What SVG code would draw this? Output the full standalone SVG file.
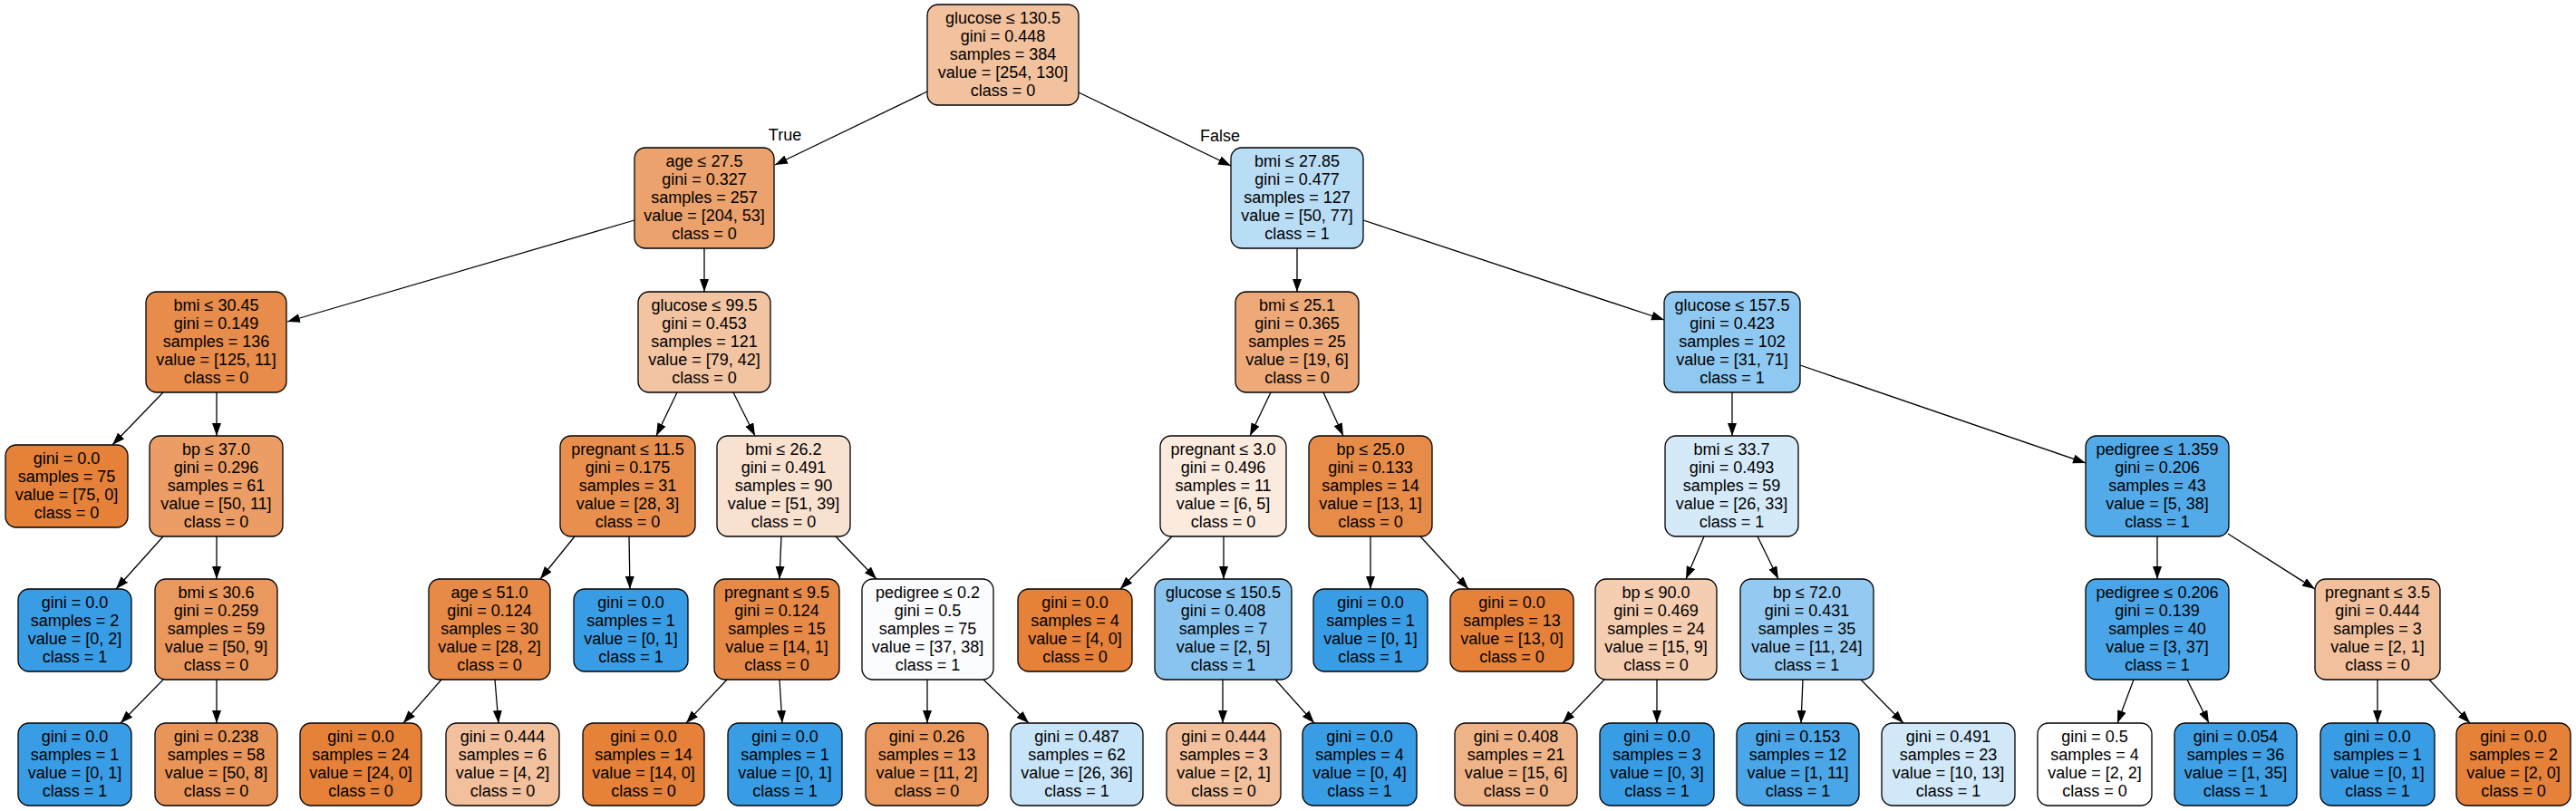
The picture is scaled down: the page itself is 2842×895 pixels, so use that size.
<svg xmlns="http://www.w3.org/2000/svg" width="2842" height="895" viewBox="0 0 2842 895">
<style>
.node rect{stroke:#000;stroke-width:1.3}
text{font-family:"Liberation Sans",Arial,Helvetica,sans-serif;font-size:18px;fill:#000;text-anchor:middle}
#edges line{stroke:#000;stroke-width:1.3;marker-end:url(#arr)}
.o{fill:#e58139}.b{fill:#399de5}
</style>
<defs>
<marker id="arr" markerWidth="15" markerHeight="11" refX="14" refY="5" orient="auto" markerUnits="userSpaceOnUse"><path d="M0,0 L14,5 L0,10 z" fill="#000"/></marker>
</defs>
<rect width="2842" height="895" fill="#fff"/>
<g id="edges">
<line x1="1023" y1="101" x2="855" y2="182"/>
<line x1="1190" y1="102" x2="1358" y2="183"/>
<line x1="700" y1="243" x2="317" y2="355"/>
<line x1="777" y1="274" x2="777" y2="322"/>
<line x1="1431" y1="274" x2="1431" y2="322"/>
<line x1="1504" y1="243" x2="1836" y2="353"/>
<line x1="180" y1="433" x2="124" y2="491"/>
<line x1="239" y1="433" x2="239" y2="481"/>
<line x1="747" y1="433" x2="724" y2="481"/>
<line x1="809" y1="433" x2="833" y2="481"/>
<line x1="1402" y1="433" x2="1379" y2="481"/>
<line x1="1460" y1="433" x2="1482" y2="481"/>
<line x1="1911" y1="433" x2="1911" y2="481"/>
<line x1="1986" y1="403" x2="2301" y2="511"/>
<line x1="180" y1="592" x2="128" y2="650"/>
<line x1="239" y1="592" x2="239" y2="639"/>
<line x1="634" y1="592" x2="596" y2="639"/>
<line x1="694" y1="592" x2="695" y2="650"/>
<line x1="862" y1="592" x2="860" y2="639"/>
<line x1="922" y1="592" x2="967" y2="639"/>
<line x1="1293" y1="592" x2="1236" y2="650"/>
<line x1="1350" y1="592" x2="1350" y2="639"/>
<line x1="1512" y1="592" x2="1512" y2="650"/>
<line x1="1567" y1="592" x2="1620" y2="650"/>
<line x1="1880" y1="592" x2="1860" y2="639"/>
<line x1="1939" y1="592" x2="1962" y2="639"/>
<line x1="2380" y1="592" x2="2380" y2="639"/>
<line x1="2458" y1="589" x2="2554" y2="650"/>
<line x1="180" y1="750" x2="133" y2="798"/>
<line x1="239" y1="750" x2="239" y2="798"/>
<line x1="487" y1="750" x2="445" y2="798"/>
<line x1="546" y1="750" x2="550" y2="798"/>
<line x1="802" y1="750" x2="757" y2="798"/>
<line x1="860" y1="750" x2="863" y2="798"/>
<line x1="1023" y1="750" x2="1023" y2="798"/>
<line x1="1085" y1="750" x2="1135" y2="798"/>
<line x1="1349" y1="750" x2="1349" y2="798"/>
<line x1="1407" y1="750" x2="1450" y2="798"/>
<line x1="1770" y1="750" x2="1724" y2="798"/>
<line x1="1828" y1="750" x2="1828" y2="798"/>
<line x1="1989" y1="750" x2="1987" y2="798"/>
<line x1="2053" y1="750" x2="2100" y2="798"/>
<line x1="2354" y1="750" x2="2336" y2="798"/>
<line x1="2413" y1="750" x2="2437" y2="798"/>
<line x1="2623" y1="750" x2="2623" y2="798"/>
<line x1="2680" y1="750" x2="2725" y2="798"/>
</g>
<g id="edge-labels">
<text x="866" y="155">True</text>
<text x="1346" y="156">False</text>
</g>
<g id="n0" class="node"><rect x="1023" y="5" width="167" height="111" rx="12" fill="#f2c19e"/><text x="1106.5" y="26">glucose ≤ 130.5</text><text x="1106.5" y="46">gini = 0.448</text><text x="1106.5" y="66">samples = 384</text><text x="1106.5" y="86">value = [254, 130]</text><text x="1106.5" y="106">class = 0</text></g>
<g id="n1" class="node"><rect x="700" y="163" width="154" height="111" rx="12" fill="#eca26c"/><text x="777" y="184">age ≤ 27.5</text><text x="777" y="204">gini = 0.327</text><text x="777" y="224">samples = 257</text><text x="777" y="244">value = [204, 53]</text><text x="777" y="264">class = 0</text></g>
<g id="n2" class="node"><rect x="1358" y="163" width="146" height="111" rx="12" fill="#baddf6"/><text x="1431" y="184">bmi ≤ 27.85</text><text x="1431" y="204">gini = 0.477</text><text x="1431" y="224">samples = 127</text><text x="1431" y="244">value = [50, 77]</text><text x="1431" y="264">class = 1</text></g>
<g id="n3" class="node"><rect x="161" y="322" width="155" height="111" rx="12" fill="#e78c4a"/><text x="238.5" y="343">bmi ≤ 30.45</text><text x="238.5" y="363">gini = 0.149</text><text x="238.5" y="383">samples = 136</text><text x="238.5" y="403">value = [125, 11]</text><text x="238.5" y="423">class = 0</text></g>
<g id="n4" class="node"><rect x="704" y="322" width="146" height="111" rx="12" fill="#f3c4a2"/><text x="777" y="343">glucose ≤ 99.5</text><text x="777" y="363">gini = 0.453</text><text x="777" y="383">samples = 121</text><text x="777" y="403">value = [79, 42]</text><text x="777" y="423">class = 0</text></g>
<g id="n5" class="node"><rect x="1363" y="322" width="136" height="111" rx="12" fill="#eda978"/><text x="1431" y="343">bmi ≤ 25.1</text><text x="1431" y="363">gini = 0.365</text><text x="1431" y="383">samples = 25</text><text x="1431" y="403">value = [19, 6]</text><text x="1431" y="423">class = 0</text></g>
<g id="n6" class="node"><rect x="1836" y="322" width="150" height="111" rx="12" fill="#8fc8f0"/><text x="1911" y="343">glucose ≤ 157.5</text><text x="1911" y="363">gini = 0.423</text><text x="1911" y="383">samples = 102</text><text x="1911" y="403">value = [31, 71]</text><text x="1911" y="423">class = 1</text></g>
<g id="n7" class="node"><rect x="6" y="491" width="135" height="91" rx="12" class="o"/><text x="73.5" y="512">gini = 0.0</text><text x="73.5" y="532">samples = 75</text><text x="73.5" y="552">value = [75, 0]</text><text x="73.5" y="572">class = 0</text></g>
<g id="n8" class="node"><rect x="165" y="481" width="147" height="111" rx="12" fill="#eb9d65"/><text x="238.5" y="502">bp ≤ 37.0</text><text x="238.5" y="522">gini = 0.296</text><text x="238.5" y="542">samples = 61</text><text x="238.5" y="562">value = [50, 11]</text><text x="238.5" y="582">class = 0</text></g>
<g id="n9" class="node"><rect x="618" y="481" width="149" height="111" rx="12" fill="#e88f4e"/><text x="692.5" y="502">pregnant ≤ 11.5</text><text x="692.5" y="522">gini = 0.175</text><text x="692.5" y="542">samples = 31</text><text x="692.5" y="562">value = [28, 3]</text><text x="692.5" y="582">class = 0</text></g>
<g id="n10" class="node"><rect x="791" y="481" width="147" height="111" rx="12" fill="#f9e1d0"/><text x="864.5" y="502">bmi ≤ 26.2</text><text x="864.5" y="522">gini = 0.491</text><text x="864.5" y="542">samples = 90</text><text x="864.5" y="562">value = [51, 39]</text><text x="864.5" y="582">class = 0</text></g>
<g id="n11" class="node"><rect x="1280" y="481" width="139" height="111" rx="12" fill="#fbeade"/><text x="1349.5" y="502">pregnant ≤ 3.0</text><text x="1349.5" y="522">gini = 0.496</text><text x="1349.5" y="542">samples = 11</text><text x="1349.5" y="562">value = [6, 5]</text><text x="1349.5" y="582">class = 0</text></g>
<g id="n12" class="node"><rect x="1444" y="481" width="136" height="111" rx="12" fill="#e78b48"/><text x="1512" y="502">bp ≤ 25.0</text><text x="1512" y="522">gini = 0.133</text><text x="1512" y="542">samples = 14</text><text x="1512" y="562">value = [13, 1]</text><text x="1512" y="582">class = 0</text></g>
<g id="n13" class="node"><rect x="1837" y="481" width="147" height="111" rx="12" fill="#d5eaf9"/><text x="1910.5" y="502">bmi ≤ 33.7</text><text x="1910.5" y="522">gini = 0.493</text><text x="1910.5" y="542">samples = 59</text><text x="1910.5" y="562">value = [26, 33]</text><text x="1910.5" y="582">class = 1</text></g>
<g id="n14" class="node"><rect x="2301" y="481" width="158" height="111" rx="12" fill="#53aae8"/><text x="2380" y="502">pedigree ≤ 1.359</text><text x="2380" y="522">gini = 0.206</text><text x="2380" y="542">samples = 43</text><text x="2380" y="562">value = [5, 38]</text><text x="2380" y="582">class = 1</text></g>
<g id="n15" class="node"><rect x="20" y="650" width="125" height="91" rx="12" class="b"/><text x="82.5" y="671">gini = 0.0</text><text x="82.5" y="691">samples = 2</text><text x="82.5" y="711">value = [0, 2]</text><text x="82.5" y="731">class = 1</text></g>
<g id="n16" class="node"><rect x="171" y="639" width="135" height="111" rx="12" fill="#ea985d"/><text x="238.5" y="660">bmi ≤ 30.6</text><text x="238.5" y="680">gini = 0.259</text><text x="238.5" y="700">samples = 59</text><text x="238.5" y="720">value = [50, 9]</text><text x="238.5" y="740">class = 0</text></g>
<g id="n17" class="node"><rect x="473" y="639" width="134" height="111" rx="12" fill="#e78a47"/><text x="540" y="660">age ≤ 51.0</text><text x="540" y="680">gini = 0.124</text><text x="540" y="700">samples = 30</text><text x="540" y="720">value = [28, 2]</text><text x="540" y="740">class = 0</text></g>
<g id="n18" class="node"><rect x="633" y="650" width="126" height="91" rx="12" class="b"/><text x="696" y="671">gini = 0.0</text><text x="696" y="691">samples = 1</text><text x="696" y="711">value = [0, 1]</text><text x="696" y="731">class = 1</text></g>
<g id="n19" class="node"><rect x="788" y="639" width="138" height="111" rx="12" fill="#e78a47"/><text x="857" y="660">pregnant ≤ 9.5</text><text x="857" y="680">gini = 0.124</text><text x="857" y="700">samples = 15</text><text x="857" y="720">value = [14, 1]</text><text x="857" y="740">class = 0</text></g>
<g id="n20" class="node"><rect x="951" y="639" width="145" height="111" rx="12" fill="#fafcfe"/><text x="1023.5" y="660">pedigree ≤ 0.2</text><text x="1023.5" y="680">gini = 0.5</text><text x="1023.5" y="700">samples = 75</text><text x="1023.5" y="720">value = [37, 38]</text><text x="1023.5" y="740">class = 1</text></g>
<g id="n21" class="node"><rect x="1123" y="650" width="126" height="91" rx="12" class="o"/><text x="1186" y="671">gini = 0.0</text><text x="1186" y="691">samples = 4</text><text x="1186" y="711">value = [4, 0]</text><text x="1186" y="731">class = 0</text></g>
<g id="n22" class="node"><rect x="1274" y="639" width="151" height="111" rx="12" fill="#88c4ef"/><text x="1349.5" y="660">glucose ≤ 150.5</text><text x="1349.5" y="680">gini = 0.408</text><text x="1349.5" y="700">samples = 7</text><text x="1349.5" y="720">value = [2, 5]</text><text x="1349.5" y="740">class = 1</text></g>
<g id="n23" class="node"><rect x="1449" y="650" width="126" height="91" rx="12" class="b"/><text x="1512" y="671">gini = 0.0</text><text x="1512" y="691">samples = 1</text><text x="1512" y="711">value = [0, 1]</text><text x="1512" y="731">class = 1</text></g>
<g id="n24" class="node"><rect x="1600" y="650" width="136" height="91" rx="12" class="o"/><text x="1668" y="671">gini = 0.0</text><text x="1668" y="691">samples = 13</text><text x="1668" y="711">value = [13, 0]</text><text x="1668" y="731">class = 0</text></g>
<g id="n25" class="node"><rect x="1760" y="639" width="134" height="111" rx="12" fill="#f5cdb0"/><text x="1827" y="660">bp ≤ 90.0</text><text x="1827" y="680">gini = 0.469</text><text x="1827" y="700">samples = 24</text><text x="1827" y="720">value = [15, 9]</text><text x="1827" y="740">class = 0</text></g>
<g id="n26" class="node"><rect x="1920" y="639" width="147" height="111" rx="12" fill="#94caf1"/><text x="1993.5" y="660">bp ≤ 72.0</text><text x="1993.5" y="680">gini = 0.431</text><text x="1993.5" y="700">samples = 35</text><text x="1993.5" y="720">value = [11, 24]</text><text x="1993.5" y="740">class = 1</text></g>
<g id="n27" class="node"><rect x="2301" y="639" width="158" height="111" rx="12" fill="#49a5e7"/><text x="2380" y="660">pedigree ≤ 0.206</text><text x="2380" y="680">gini = 0.139</text><text x="2380" y="700">samples = 40</text><text x="2380" y="720">value = [3, 37]</text><text x="2380" y="740">class = 1</text></g>
<g id="n28" class="node"><rect x="2554" y="639" width="138" height="111" rx="12" fill="#f2c09c"/><text x="2623" y="660">pregnant ≤ 3.5</text><text x="2623" y="680">gini = 0.444</text><text x="2623" y="700">samples = 3</text><text x="2623" y="720">value = [2, 1]</text><text x="2623" y="740">class = 0</text></g>
<g id="n29" class="node"><rect x="20" y="798" width="125" height="91" rx="12" class="b"/><text x="82.5" y="819">gini = 0.0</text><text x="82.5" y="839">samples = 1</text><text x="82.5" y="859">value = [0, 1]</text><text x="82.5" y="879">class = 1</text></g>
<g id="n30" class="node"><rect x="171" y="798" width="135" height="91" rx="12" fill="#e99559"/><text x="238.5" y="819">gini = 0.238</text><text x="238.5" y="839">samples = 58</text><text x="238.5" y="859">value = [50, 8]</text><text x="238.5" y="879">class = 0</text></g>
<g id="n31" class="node"><rect x="331" y="798" width="134" height="91" rx="12" class="o"/><text x="398" y="819">gini = 0.0</text><text x="398" y="839">samples = 24</text><text x="398" y="859">value = [24, 0]</text><text x="398" y="879">class = 0</text></g>
<g id="n32" class="node"><rect x="492" y="798" width="125" height="91" rx="12" fill="#f2c09c"/><text x="554.5" y="819">gini = 0.444</text><text x="554.5" y="839">samples = 6</text><text x="554.5" y="859">value = [4, 2]</text><text x="554.5" y="879">class = 0</text></g>
<g id="n33" class="node"><rect x="643" y="798" width="134" height="91" rx="12" class="o"/><text x="710" y="819">gini = 0.0</text><text x="710" y="839">samples = 14</text><text x="710" y="859">value = [14, 0]</text><text x="710" y="879">class = 0</text></g>
<g id="n34" class="node"><rect x="803" y="798" width="126" height="91" rx="12" class="b"/><text x="866" y="819">gini = 0.0</text><text x="866" y="839">samples = 1</text><text x="866" y="859">value = [0, 1]</text><text x="866" y="879">class = 1</text></g>
<g id="n35" class="node"><rect x="955" y="798" width="135" height="91" rx="12" fill="#ea985d"/><text x="1022.5" y="819">gini = 0.26</text><text x="1022.5" y="839">samples = 13</text><text x="1022.5" y="859">value = [11, 2]</text><text x="1022.5" y="879">class = 0</text></g>
<g id="n36" class="node"><rect x="1115" y="798" width="146" height="91" rx="12" fill="#c8e4f8"/><text x="1188" y="819">gini = 0.487</text><text x="1188" y="839">samples = 62</text><text x="1188" y="859">value = [26, 36]</text><text x="1188" y="879">class = 1</text></g>
<g id="n37" class="node"><rect x="1287" y="798" width="126" height="91" rx="12" fill="#f2c09c"/><text x="1350" y="819">gini = 0.444</text><text x="1350" y="839">samples = 3</text><text x="1350" y="859">value = [2, 1]</text><text x="1350" y="879">class = 0</text></g>
<g id="n38" class="node"><rect x="1437" y="798" width="126" height="91" rx="12" class="b"/><text x="1500" y="819">gini = 0.0</text><text x="1500" y="839">samples = 4</text><text x="1500" y="859">value = [0, 4]</text><text x="1500" y="879">class = 1</text></g>
<g id="n39" class="node"><rect x="1605" y="798" width="135" height="91" rx="12" fill="#efb388"/><text x="1672.5" y="819">gini = 0.408</text><text x="1672.5" y="839">samples = 21</text><text x="1672.5" y="859">value = [15, 6]</text><text x="1672.5" y="879">class = 0</text></g>
<g id="n40" class="node"><rect x="1765" y="798" width="126" height="91" rx="12" class="b"/><text x="1828" y="819">gini = 0.0</text><text x="1828" y="839">samples = 3</text><text x="1828" y="859">value = [0, 3]</text><text x="1828" y="879">class = 1</text></g>
<g id="n41" class="node"><rect x="1916" y="798" width="135" height="91" rx="12" fill="#4ba6e7"/><text x="1983.5" y="819">gini = 0.153</text><text x="1983.5" y="839">samples = 12</text><text x="1983.5" y="859">value = [1, 11]</text><text x="1983.5" y="879">class = 1</text></g>
<g id="n42" class="node"><rect x="2076" y="798" width="147" height="91" rx="12" fill="#d1e8f9"/><text x="2149.5" y="819">gini = 0.491</text><text x="2149.5" y="839">samples = 23</text><text x="2149.5" y="859">value = [10, 13]</text><text x="2149.5" y="879">class = 1</text></g>
<g id="n43" class="node"><rect x="2248" y="798" width="126" height="91" rx="12" fill="#ffffff"/><text x="2311" y="819">gini = 0.5</text><text x="2311" y="839">samples = 4</text><text x="2311" y="859">value = [2, 2]</text><text x="2311" y="879">class = 0</text></g>
<g id="n44" class="node"><rect x="2399" y="798" width="135" height="91" rx="12" fill="#3fa0e6"/><text x="2466.5" y="819">gini = 0.054</text><text x="2466.5" y="839">samples = 36</text><text x="2466.5" y="859">value = [1, 35]</text><text x="2466.5" y="879">class = 1</text></g>
<g id="n45" class="node"><rect x="2560" y="798" width="126" height="91" rx="12" class="b"/><text x="2623" y="819">gini = 0.0</text><text x="2623" y="839">samples = 1</text><text x="2623" y="859">value = [0, 1]</text><text x="2623" y="879">class = 1</text></g>
<g id="n46" class="node"><rect x="2710" y="798" width="126" height="91" rx="12" class="o"/><text x="2773" y="819">gini = 0.0</text><text x="2773" y="839">samples = 2</text><text x="2773" y="859">value = [2, 0]</text><text x="2773" y="879">class = 0</text></g>
</svg>
